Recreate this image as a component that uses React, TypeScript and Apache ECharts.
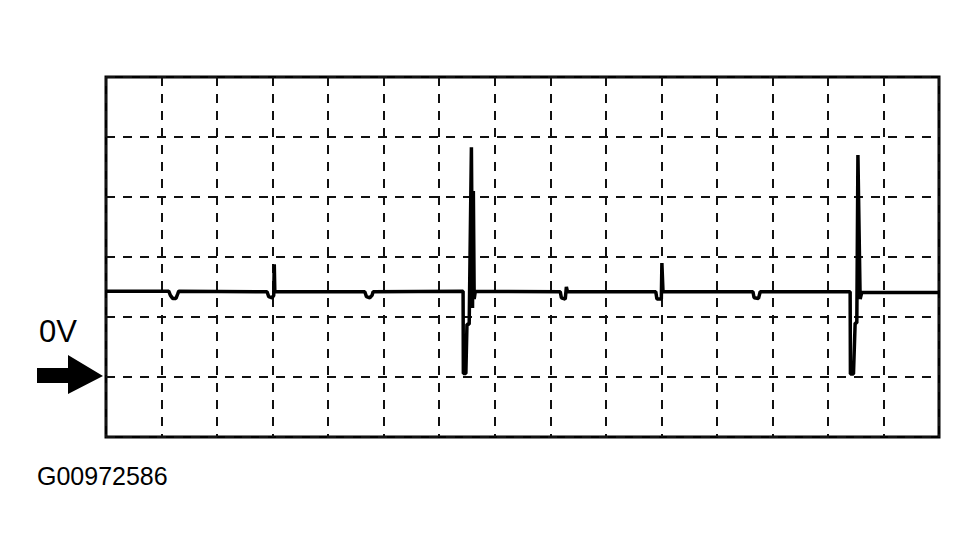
import { useEffect, useRef } from 'react'
import * as echarts from 'echarts'

// scope trace: x in time units (15 divisions of 10), y in vertical divisions (0V = 0)
const traceTime = [
  0, 11.3, 11.6, 12.0, 12.6, 12.9, 13.1,
  29.0, 29.3, 29.9, 30.2, 30.3, 30.4,
  46.6, 46.9, 47.5, 47.9, 48.1,
  64.3, 64.35, 64.8, 65.0, 65.4, 65.8, 66.0, 66.15, 66.3, 66.5,
  81.8, 82.0, 82.7, 82.9, 83.1,
  99.0, 99.2, 100.0, 100.1, 100.3,
  116.5, 116.7, 117.5, 117.8,
  134.0, 134.05, 134.6, 134.9, 135.2, 135.4, 135.8, 136.1,
  150,
]
const traceDiv = [
  1.43, 1.43, 1.36, 1.31, 1.31, 1.38, 1.43,
  1.42, 1.34, 1.32, 1.36, 1.88, 1.42,
  1.42, 1.34, 1.32, 1.36, 1.42,
  1.43, 0.06, 0.06, 0.88, 0.88, 3.83, 1.15, 3.1, 1.3, 1.43,
  1.42, 1.32, 1.30, 1.5, 1.42,
  1.42, 1.30, 1.30, 1.9, 1.42,
  1.42, 1.32, 1.31, 1.42,
  1.42, 0.05, 0.05, 0.9, 0.9, 3.7, 1.3, 1.41,
  1.41,
]

const xMin = 0
const xMax = 150
const xStep = 10
const yMin = -1
const yMax = 5
const yStep = 1

const zeroLabel = '0V'
const figureId = 'G00972586'

export default function App() {
  const ref = useRef<HTMLDivElement>(null)

  useEffect(() => {
    if (!ref.current) return
    document.body.style.margin = '0'
    const chart = echarts.init(ref.current, undefined, { renderer: 'svg' })

    const gridLine = { show: true, lineStyle: { color: '#111', width: 2, type: [9, 8] as number[] } }

    chart.setOption({
      animation: false,
      backgroundColor: '#fff',
      grid: {
        left: 106, top: 77, right: 41, bottom: 123,
        show: true, borderColor: '#000', borderWidth: 3, backgroundColor: 'transparent',
      },
      xAxis: {
        type: 'value', min: xMin, max: xMax, interval: xStep,
        axisLine: { show: false }, axisTick: { show: false }, axisLabel: { show: false },
        splitLine: gridLine,
      },
      yAxis: {
        type: 'value', min: yMin, max: yMax, interval: yStep,
        axisLine: { show: false }, axisTick: { show: false }, axisLabel: { show: false },
        splitLine: gridLine,
      },
      series: [{
        type: 'line',
        data: traceTime.map((t, i) => [t, traceDiv[i]]),
        showSymbol: false,
        lineStyle: { color: '#000', width: 3.5 },
        z: 5,
      }],
      graphic: [
        {
          type: 'polygon',
          shape: { points: [[37, 368], [68, 368], [68, 355], [103, 376], [68, 394], [68, 383], [37, 383]] },
          style: { fill: '#000' },
        },
        {
          type: 'text', x: 39, y: 316,
          style: {
            text: zeroLabel, fill: '#000', fontSize: 31,
            fontFamily: '"Liberation Sans", Arial, sans-serif',
          },
        },
        {
          type: 'text', x: 37, y: 463,
          style: {
            text: figureId, fill: '#000', fontSize: 25,
            fontFamily: '"Liberation Sans", Arial, sans-serif',
          },
        },
      ],
    })

    return () => { chart.dispose() }
  }, [])

  return <div ref={ref} style={{ width: 980, height: 560 }} />
}
